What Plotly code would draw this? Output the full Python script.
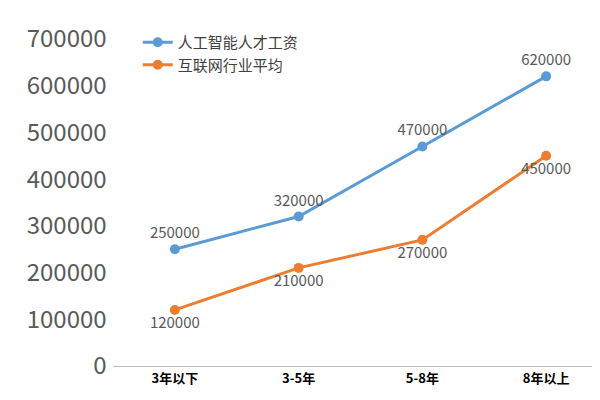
import plotly.graph_objs as go

categories = ["3年以下", "3-5年", "5-8年", "8年以上"]
ai_salary = [250000, 320000, 470000, 620000]
web_avg = [120000, 210000, 270000, 450000]

fig = go.Figure()

fig.add_trace(go.Scatter(x=categories, y=ai_salary, name="人工智能人才工资",
                         mode="lines+markers+text",
                         line=dict(color="#5B9BD5", width=3),
                         marker=dict(size=10, color="#5B9BD5"),
                         text=[str(v) for v in ai_salary],
                         textposition="top center",
                         textfont=dict(size=15, color="#595959")))

fig.add_trace(go.Scatter(x=categories, y=web_avg, name="互联网行业平均",
                         mode="lines+markers+text",
                         line=dict(color="#ED7D31", width=3),
                         marker=dict(size=10, color="#ED7D31"),
                         text=[str(v) for v in web_avg],
                         textposition="bottom center",
                         textfont=dict(size=15, color="#595959")))

fig.update_layout(
    width=600, height=400,
    margin=dict(l=105, r=0, t=31, b=42),
    plot_bgcolor="white", paper_bgcolor="white",
    font=dict(family="Noto Sans CJK SC", color="#595959"),
    showlegend=True,
    legend=dict(x=0.05, y=1.04, xanchor="left", yanchor="top",
                font=dict(size=15, color="#404040"), bgcolor="rgba(0,0,0,0)"),
    xaxis=dict(range=[-0.5, 3.5], showgrid=False, showline=True,
               linecolor="#BFBFBF", ticks="",
               tickfont=dict(size=13, color="#000000", family="Noto Sans CJK SC")),
    yaxis=dict(range=[0, 700000], dtick=100000, showgrid=False, zeroline=False,
               tickformat="d", tickfont=dict(size=24, color="#595959"),
               ticksuffix=" "),
)
fig.update_xaxes(tickprefix="<b>", ticksuffix="</b>")

fig.write_html("out.html")
